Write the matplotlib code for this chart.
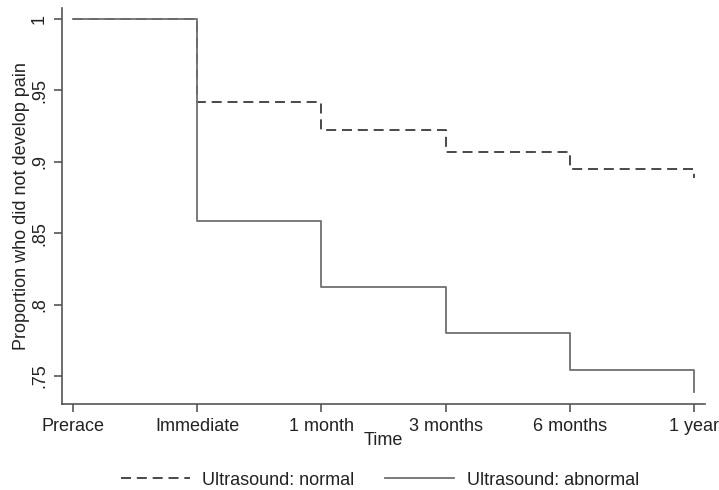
import matplotlib
matplotlib.use("Agg")
import matplotlib.pyplot as plt
from matplotlib.lines import Line2D

plt.rcParams['font.family'] = ['Liberation Sans', 'DejaVu Sans']

time_labels = ["Prerace", "Immediate", "1 month", "3 months", "6 months", "1 year"]
normal = [1.0, 0.942, 0.922, 0.907, 0.895, 0.889]
abnormal = [1.0, 0.8585, 0.8125, 0.780, 0.754, 0.739]
yticks = [0.75, 0.8, 0.85, 0.9, 0.95, 1.0]
ytick_labels = [".75", ".8", ".85", ".9", ".95", "1"]
series_labels = ["Ultrasound: normal", "Ultrasound: abnormal"]

fig = plt.figure(figsize=(7.19, 4.90), dpi=100)
ax = fig.add_axes([62/719, 1-404/490, (705-62)/719, (404-8)/490])

x = list(range(len(time_labels)))
c_dash = '#2a2a2a'
c_solid = '#707070'
ax.step(x, normal, where='post', color=c_dash, lw=1.2, linestyle=(0, (6, 3.5)))
ax.step(x, abnormal, where='post', color=c_solid, lw=1.3)

ax.set_xlim(-0.09, 5.09)
ax.set_ylim(0.7304, 1.0077)
ax.set_xticks(x)
ax.set_xticklabels(time_labels, fontsize=13)
ax.set_yticks(yticks)
ax.set_yticklabels(ytick_labels, fontsize=13, rotation=90, va='center')

for s in ['top', 'right']:
    ax.spines[s].set_visible(False)
for s in ['left', 'bottom']:
    ax.spines[s].set_color('#555555')
    ax.spines[s].set_linewidth(1.2)
ax.tick_params(axis='both', direction='out', length=6, width=1.2, color='#555555', labelcolor='#222222')
ax.tick_params(axis='x', pad=4)
ax.tick_params(axis='y', pad=4)

ax.set_xlabel("Time", fontsize=13, labelpad=-2, color='#222222')
ax.set_ylabel("Proportion who did not develop pain", fontsize=13, labelpad=1, color='#222222')

handles = [Line2D([0], [0], color=c_dash, lw=1.2, linestyle=(0, (6, 3.5))),
           Line2D([0], [0], color=c_solid, lw=1.3)]
fig.legend(handles, series_labels, loc='center', bbox_to_anchor=(380/719, 1-480/490),
           ncol=2, frameon=False, fontsize=13, handlelength=3.8, handletextpad=0.7,
           columnspacing=1.7, labelcolor='#222222', borderpad=0.1)

fig.savefig("out.png", dpi=100, facecolor='white')
